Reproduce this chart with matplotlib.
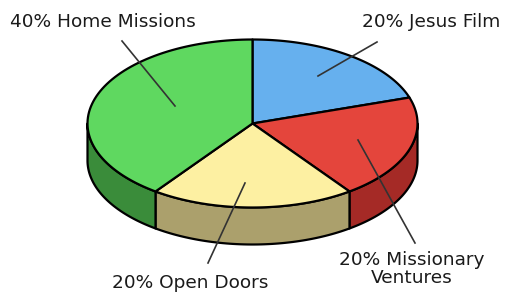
import numpy as np
import matplotlib.pyplot as plt
from matplotlib.patches import Polygon

# slice data, clockwise from 12 o'clock
labels = ['20% Jesus Film', '20% Missionary\nVentures', '20% Open Doors', '40% Home Missions']
shares = [20, 20, 20, 40]
top_colors = ['#66b0ee', '#e4453c', '#fdf0a2', '#5fd860']
side_colors = ['#3d6fa8', '#a52a26', '#aba06c', '#3a8c3a']

# pie geometry in pixel units
cx, cy = 252.5, 123.5
a, b = 165, 84
depth = 37


def pt(t, dy=0.0):
    t = np.radians(t)
    return cx + a * np.cos(t), cy - b * np.sin(t) + dy


fig = plt.figure(figsize=(5.09, 2.95), dpi=100)
ax = fig.add_axes([0, 0, 1, 1])
ax.set_xlim(0, 509)
ax.set_ylim(295, 0)
ax.axis('off')

# angles (math convention), going clockwise from 90
bounds = 90 - np.cumsum([0] + shares) * 3.6
slices = [(bounds[i + 1], bounds[i]) for i in range(len(shares))]

# side walls (front half only: angles 180..360)
for (t1, t2), c in zip(slices, side_colors):
    lo, hi = t1 % 360, t2 % 360
    if hi <= lo:
        hi += 360
    s, e = max(lo, 180), min(hi, 360)
    if e <= s:
        continue
    ts = np.linspace(s, e, 60)
    top = [pt(t) for t in ts]
    bot = [pt(t, depth) for t in ts[::-1]]
    ax.add_patch(Polygon(top + bot, closed=True, fc=c, ec='black', lw=1.6, joinstyle='round'))

# top face wedges
for (t1, t2), c in zip(slices, top_colors):
    ts = np.linspace(t1, t2, 80)
    verts = [(cx, cy)] + [pt(t) for t in ts]
    ax.add_patch(Polygon(verts, closed=True, fc=c, ec='black', lw=1.6, joinstyle='round'))

# labels and leader lines
font = dict(family='DejaVu Sans', fontsize=13.3, color='#1a1a1a')
ax.text(10, 22, labels[3], ha='left', va='center', **font)
ax.text(500, 22, labels[0], ha='right', va='center', **font)
ax.text(190, 283, labels[2], ha='center', va='center', **font)
ax.text(412, 269, labels[1], ha='center', va='center', linespacing=1.0, **font)

leaders = [((377, 42), (318, 76)),
           ((122, 41), (175, 106)),
           ((358, 140), (415, 243)),
           ((245, 183), (208, 263))]
for p, q in leaders:
    ax.plot([p[0], q[0]], [p[1], q[1]], color='#333333', lw=1.2)

fig.savefig('out.png', dpi=100)
